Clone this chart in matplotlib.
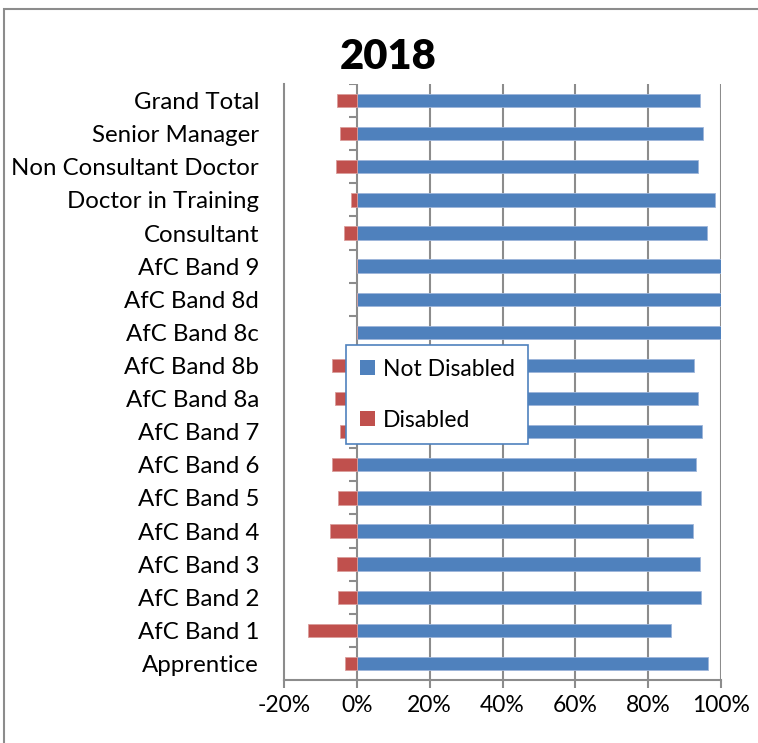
import matplotlib.pyplot as plt
from matplotlib.patches import Rectangle
from matplotlib.ticker import PercentFormatter

# data, bottom to top
categories = ['Apprentice', 'AfC Band 1', 'AfC Band 2', 'AfC Band 3', 'AfC Band 4',
              'AfC Band 5', 'AfC Band 6', 'AfC Band 7', 'AfC Band 8a', 'AfC Band 8b',
              'AfC Band 8c', 'AfC Band 8d', 'AfC Band 9', 'Consultant',
              'Doctor in Training', 'Non Consultant Doctor', 'Senior Manager', 'Grand Total']
not_disabled = [96.4, 86.4, 94.5, 94.3, 92.3, 94.6, 93.0, 94.9, 93.6, 92.7,
                100.0, 100.0, 100.0, 96.2, 98.3, 93.8, 95.0, 94.2]
disabled = [-3.3, -13.3, -5.2, -5.4, -7.3, -5.1, -6.8, -4.7, -6.0, -6.9,
            0.0, 0.0, 0.0, -3.6, -1.5, -5.8, -4.7, -5.5]
xticks = [-20, 0, 20, 40, 60, 80, 100]

blue = '#4F81BD'
red = '#C0504D'
grid = '#8C8C8C'
fs = 16.5

plt.rcParams['font.family'] = ['Lato', 'DejaVu Sans']
plt.rcParams['axes.unicode_minus'] = False

fig = plt.figure(figsize=(7.58, 7.43), dpi=100)
ax = fig.add_axes([284/758, 1-680/743, (721-284)/758, (680-84)/743])

y = range(len(categories))
ax.barh(y, not_disabled, height=0.4, color=blue, edgecolor='#9DB5DA', linewidth=0.6,
        label='Not Disabled', zorder=3)
ax.barh(y, disabled, height=0.4, color=red, edgecolor='#DA9D9B', linewidth=0.6,
        label='Disabled', zorder=3)

ax.set_xlim(-20, 100)
ax.set_ylim(-0.5, len(categories) - 0.5)
ax.set_xticks(xticks)
ax.xaxis.set_major_formatter(PercentFormatter(decimals=0))
ax.set_yticks(list(y))
ax.set_yticklabels(categories)

ax.tick_params(axis='y', length=0, pad=18, labelsize=17.3)
ax.tick_params(axis='x', length=6, width=1.5, color=grid, pad=5, labelsize=fs)

for v in xticks[1:]:
    ax.axvline(v, color=grid, lw=1.5, zorder=1)

# category tick marks on the zero axis
for i in range(len(categories) + 1):
    ax.plot([-2.2, 0], [i - 0.5, i - 0.5], color=grid, lw=1.5, zorder=2,
            solid_capstyle='butt')

for s in ['top', 'right']:
    ax.spines[s].set_visible(False)
for s in ['left', 'bottom']:
    ax.spines[s].set_color(grid)
    ax.spines[s].set_linewidth(1.5)

leg = ax.legend(loc='upper left', bbox_to_anchor=(346/758, 1-345/743),
                bbox_transform=fig.transFigure, fontsize=fs, frameon=True,
                framealpha=1, fancybox=False, handlelength=0.65, handleheight=0.65,
                labelspacing=1.3, borderpad=0.6, handletextpad=0.35,
                borderaxespad=0)
leg.get_frame().set_edgecolor(blue)
leg.get_frame().set_linewidth(1.2)
leg.set_zorder(5)
for h in leg.legend_handles:
    h.set_edgecolor('none')

fig.text(388/758, 1-57/743, '2018', ha='center', va='center',
         fontsize=30, fontweight='heavy')

fig.patches.append(Rectangle((4/758, -0.1), 1.1, 1.1 - 9/743,
                             transform=fig.transFigure, fill=False,
                             edgecolor='#8C8C8C', lw=1.5))

fig.savefig('out.png', dpi=100)
